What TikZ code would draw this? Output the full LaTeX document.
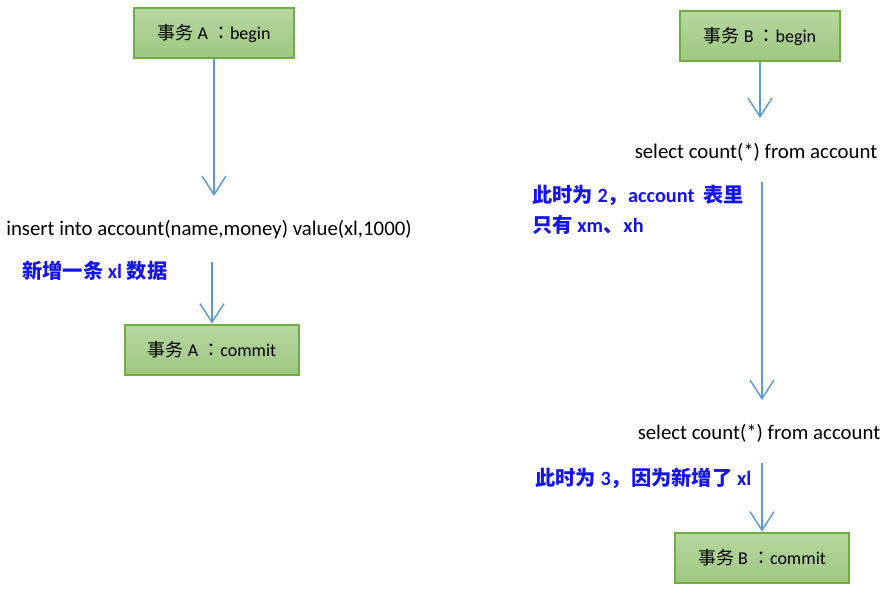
\documentclass[tikz,border=0pt]{standalone}
\usepackage{fontspec}
\setmainfont{Carlito}
\newfontfamily\cjk{Noto Sans CJK SC}
\newfontfamily\cjkp{Noto Sans CJK TC}
\usetikzlibrary{arrows.meta}
\definecolor{boxline}{RGB}{112,173,71}
\definecolor{boxtop}{RGB}{183,215,161}
\definecolor{boxbot}{RGB}{158,199,128}
\definecolor{flow}{RGB}{91,155,213}
\definecolor{note}{RGB}{20,20,235}
\tikzset{
  stepbox/.style={draw=boxline,line width=1.5pt,top color=boxtop,bottom color=boxbot,
    minimum height=38pt,font=\fontsize{13.5}{16}\selectfont},
  sql/.style={inner sep=0pt,font=\fontsize{15.6}{18}\selectfont},
  remark/.style={inner sep=0pt,text=note,align=left,font=\bfseries\fontsize{15.2}{22.5}\selectfont},
  flowline/.style={draw=flow,line width=1.1pt,-{Straight Barb[length=14pt,width=18pt]}}
}

\begin{document}
\begin{tikzpicture}[x=0.75pt,y=-0.75pt]
\useasboundingbox (0,0) rectangle (889,593);

% transaction A
\node[stepbox,minimum width=120pt] (abegin) at (214,33) {{\cjk 事务} A {\cjkp ：}begin};
\coordinate (ain) at (214,196);
\node[sql] (ainsert) at (209,230) {insert into account(name,money) value(xl,1000)};
\node[remark,anchor=west] (anote) at (22,271) {{\cjk 新增一条} xl {\cjk 数据}};
\coordinate (aout) at (212,262);
\node[stepbox,minimum width=130pt] (acommit) at (212,350) {{\cjk 事务} A {\cjkp ：}commit};

\draw[flowline] (abegin.south) -- (ain);
\draw[flowline] (aout) -- (acommit.north);

% transaction B
\node[stepbox,minimum width=120pt] (bbegin) at (760,36) {{\cjk 事务} B {\cjkp ：}begin};
\coordinate (bin) at (760,118);
\node[sql] (bselect) at (756,152) {select count(*) from account};
\node[remark,anchor=west] (bnote) at (532,210) {{\cjk 此时为} 2{\cjk ，}account\ \ {\cjk 表里}\\{\cjk 只有} xm{\cjk 、}xh};
\coordinate (bout) at (762,182);
\coordinate (bin2) at (762,400);
\node[sql] (bselect2) at (759,433) {select count(*) from account};
\node[remark,anchor=west] (bnote2) at (535,478) {{\cjk 此时为} 3{\cjk ，因为新增了} xl};
\coordinate (bout2) at (762,463);
\node[stepbox,minimum width=130pt] (bcommit) at (762,558) {{\cjk 事务} B {\cjkp ：}commit};

\draw[flowline] (bbegin.south) -- (bin);
\draw[flowline] (bout) -- (bin2);
\draw[flowline] (bout2) -- (bcommit.north);

\end{tikzpicture}
\end{document}
